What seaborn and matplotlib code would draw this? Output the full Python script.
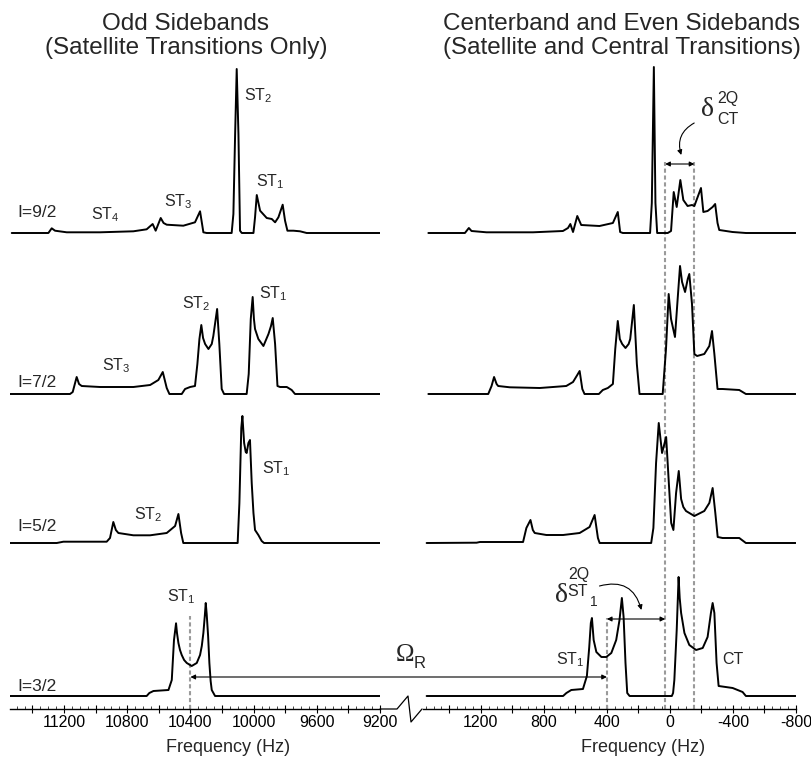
import numpy as np
import seaborn as sns
import matplotlib.pyplot as plt
from matplotlib.lines import Line2D
from matplotlib.ticker import FixedLocator, MultipleLocator, FuncFormatter

# ---- spectra: frequency (Hz) and intensity (a.u.) ----
# odd sidebands (left panel)
odd_92_hz = [11531, 11299, 11278, 11257, 11183, 10972, 10761, 10677, 10639, 10620,
             10588, 10570, 10550, 10445, 10371, 10339, 10318, 10297, 10139, 10128,
             10117, 10107, 10096, 10086, 10075, 10001, 9991, 9980, 9959, 9917,
             9885, 9864, 9843, 9816, 9801, 9786, 9748, 9706, 9664, 9200]
odd_92_int = [0, 0, 4.7, 2.3, 0.7, 0.7, 1.7, 3.7, 9, 2.3,
              15, 10, 8.3, 7.3, 10.7, 21.7, 0.7, 0, 0, 19,
              99, 164, 99, 2.3, 0, 0, 15.7, 38, 22.3, 15,
              14, 10.7, 15.7, 28.3, 12.3, 2.3, 2.3, 1.7, 0, 0]

odd_72_hz = [11542, 11162, 11145, 11120, 11105, 11088, 10972, 10761, 10655, 10603,
             10575, 10550, 10533, 10455, 10434, 10402, 10371, 10356, 10343, 10331,
             10320, 10307, 10286, 10265, 10255, 10231, 10217, 10202, 10187, 10044,
             10031, 10018, 10006, 9998, 9991, 9970, 9938, 9906, 9890, 9879,
             9864, 9849, 9833, 9790, 9759, 9738, 9200]
odd_72_int = [0, 0, 2, 17, 10, 8, 7, 7, 9, 14,
              22, 6, 0, 0, 5, 7, 8, 30, 55, 69,
              56, 50, 45, 50, 58, 85, 50, 5, 0, 0,
              20, 75, 97, 75, 65, 55, 48, 60, 68, 76,
              50, 8, 7, 7, 4, 0, 0]

odd_52_hz = [11542, 11246, 11204, 10930, 10909, 10888, 10872, 10856, 10761, 10655,
             10550, 10497, 10476, 10459, 10445, 10101, 10090, 10078, 10071, 10060,
             10050, 10044, 10033, 10023, 10012, 10001, 9991, 9970, 9949, 9934, 9200]
odd_52_int = [0, 0, 1.3, 1.3, 5, 21, 13, 10, 7.7, 7.7,
              10, 17, 29, 10, 0, 0, 40, 115, 127, 100,
              91, 90, 100, 103, 60, 30, 13, 8, 2, 0, 0]

odd_32_hz = [11542, 10677, 10660, 10634, 10539, 10518, 10504, 10491, 10485, 10476,
             10466, 10455, 10440, 10423, 10392, 10360, 10339, 10328, 10318, 10309,
             10303, 10297, 10288, 10280, 10272, 10265, 10244, 9200]
odd_32_int = [0, 0, 3, 5, 6, 16, 56, 72.7, 63, 53,
              46, 41, 36, 33, 30, 33, 41, 50, 63, 80,
              93, 82, 60, 33, 15, 6, 0, 0]

# centerband and even sidebands (right panel)
even_92_hz = [1533, 1301, 1276, 1259, 1164, 869, 679, 647, 632, 615,
              588, 563, 447, 362, 331, 316, 299, 126, 115, 102,
              92, 81, 14, -7, -24, -43, -66, -85, -112, -140,
              -155, -169, -197, -212, -239, -271, -287, -302, -313, -397, -482, -798]
even_92_int = [0, 0, 5, 2, 0.7, 0.7, 2, 5, 9, 1,
               17, 8, 7, 10, 21, 1, 0, 0, 30, 166,
               30, 0, 0, 2, 41, 26, 53, 33, 27, 28,
               27, 33, 45, 21, 22, 26, 29, 10, 3, 1, 0, 0]

even_72_hz = [1533, 1153, 1132, 1116, 1100, 1090, 1016, 826, 658, 615,
              588, 573, 556, 542, 451, 426, 394, 362, 347, 331,
              318, 303, 282, 262, 252, 229, 210, 193, 46, 25,
              8, -7, -32, -49, -64, -77, -96, -113, -123, -140,
              -155, -172, -218, -250, -267, -282, -302, -334, -440, -482, -798]
even_72_int = [0, 0, 8, 17, 10, 8, 6.7, 6, 8, 12,
               19, 23, 5, 0, 0, 4, 6, 10, 45, 73,
               55, 50, 46, 50, 55, 89, 30, 0, 0, 45,
               100, 75, 57, 95, 128, 112, 102, 115, 120, 90,
               40, 38, 40, 48, 63, 40, 5, 5, 4, 0, 0]

even_52_hz = [1544, 1227, 1206, 932, 911, 885, 870, 858, 784, 678,
              573, 510, 478, 457, 446, 119, 105, 88, 71, 50,
              24, 7, -8, -22, -39, -56, -71, -85, -102, -155,
              -218, -250, -271, -288, -303, -334, -440, -482, -798]
even_52_int = [0, 0.3, 1, 1, 15, 23, 13, 10, 8, 8,
               10, 16, 28, 5, 0, 0, 15, 80, 120, 90,
               106, 60, 20, 13, 50, 72, 44, 36, 32, 27,
               32, 40, 55, 30, 6, 5, 5, 0, 0]

even_32_hz = [1544, 678, 657, 626, 552, 527, 512, 502, 495, 484,
              467, 435, 404, 372, 341, 320, 305, 294, 282, 271,
              256, -12, -20, -28, -43, -55, -62, -71, -92, -123,
              -166, -208, -239, -260, -271, -282, -296, -309, -398, -461, -482, -798]
even_32_int = [0, 0, 3, 6, 7, 20, 49, 73, 78, 56,
               44, 39, 39, 43, 56, 76, 98, 79, 33, 3,
               0, 0, 3, 16, 66, 119, 98, 83, 63, 51,
               46, 48, 59, 83, 93, 83, 33, 10, 8, 4, 0, 0]

spin_labels = ["I=9/2", "I=7/2", "I=5/2", "I=3/2"]

# ---- layout (pixels of the 811x758 canvas) ----
W, H = 811, 758
AXIS_Y = 709
ROW_BASE = [476, 315, 166, 13]   # trace baselines, pixels above the axis line


def put(x, y, s, size, ha="center", va="center", **kw):
    fig.text(x / W, 1 - y / H, s, ha=ha, va=va, fontsize=size, **kw)


sns.set_theme(style="white")
plt.rcParams["font.family"] = ["Liberation Sans", "DejaVu Sans"]
plt.rcParams["mathtext.fontset"] = "custom"
plt.rcParams["mathtext.rm"] = "Liberation Sans"
plt.rcParams["mathtext.it"] = "Liberation Sans:italic"
plt.rcParams["mathtext.bf"] = "Liberation Sans:bold"
plt.rcParams["mathtext.sf"] = "Liberation Sans"

fig = plt.figure(figsize=(W / 100, H / 100), dpi=100)
ax_l = fig.add_axes([10 / W, (H - AXIS_Y) / H, 370 / W, 669 / H])
ax_r = fig.add_axes([423 / W, (H - AXIS_Y) / H, 373 / W, 669 / H])

odd = [(odd_92_hz, odd_92_int), (odd_72_hz, odd_72_int),
       (odd_52_hz, odd_52_int), (odd_32_hz, odd_32_int)]
even = [(even_92_hz, even_92_int), (even_72_hz, even_72_int),
        (even_52_hz, even_52_int), (even_32_hz, even_32_int)]

grey = "#9a9a9a"
dash_kw = dict(color=grey, lw=1.5, dashes=(2, 1.3), zorder=1)

# dashed reference lines
ax_r.plot([30, 30], [0, 547], **dash_kw)
ax_r.plot([-155, -155], [0, 547], **dash_kw)
ax_r.plot([400, 400], [0, 91], **dash_kw)
ax_l.plot([10400, 10400], [0, 93], **dash_kw)

for ax, traces in [(ax_l, odd), (ax_r, even)]:
    for (hz, inten), base in zip(traces, ROW_BASE):
        sns.lineplot(x=hz, y=np.array(inten) + base, ax=ax, color="black",
                     lw=1.4, sort=False, estimator=None, zorder=3)

for ax, lim in [(ax_l, (11542, 9200)), (ax_r, (1567, -800))]:
    ax.set_xlim(*lim)
    ax.set_ylim(0, 669)
    ax.set_yticks([])
    for s in ["top", "left", "right"]:
        ax.spines[s].set_visible(False)
    ax.spines["bottom"].set_color("black")
    ax.spines["bottom"].set_linewidth(1.0)
    lo, hi = min(lim), max(lim)
    ax.xaxis.set_major_locator(FixedLocator(np.arange(np.ceil(lo / 200) * 200, hi + 1, 200)))
    ax.xaxis.set_minor_locator(MultipleLocator(50))
    ax.xaxis.set_major_formatter(FuncFormatter(
        lambda v, p: f"{int(round(v))}" if int(round(v)) % 400 == 0 else ""))
    ax.tick_params(axis="x", which="major", direction="inout", length=6, width=0.8,
                   labelsize=11.5, pad=1, colors="black", bottom=True)
    ax.tick_params(axis="x", which="minor", direction="in", length=2.5, width=0.6,
                   bottom=True)
    ax.set_xlabel("Frequency (Hz)", fontsize=13, va="top")
    ax.xaxis.set_label_coords(0.589, -0.045)
    ax.set_facecolor("none")

# broken axis mark
bx = [380, 397, 408, 411, 422]
by = [709, 709, 696, 722, 709]
fig.add_artist(Line2D([x / W for x in bx], [1 - y / H for y in by],
                      color="black", lw=0.9))

# titles
put(186, 13, "Odd Sidebands\n(Satellite Transitions Only)", 17.5, va="top",
    multialignment="center", linespacing=1.12)
put(443, 13, "Centerband and Even Sidebands\n(Satellite and Central Transitions)", 17.5,
    ha="left", va="top", multialignment="left", linespacing=1.12)

# spin labels
for lab, yb in zip(spin_labels, [217, 387, 531, 691]):
    put(17, yb, lab, 12.5, ha="left", va="baseline")

# transition labels
st_labels = [("2", 258, 96), ("1", 270, 182), ("3", 178, 202), ("4", 105, 215),
             ("3", 116, 366), ("2", 196, 304), ("1", 273, 294),
             ("2", 148, 515), ("1", 276, 469), ("1", 181, 597),
             ("1", 570, 660)]
for n, x, y in st_labels:
    put(x, y, "ST$_" + n + "$", 11.5)
put(733, 660, "CT", 11.5)

arr2 = dict(arrowstyle="<|-|>", lw=0.8, color="black", mutation_scale=7,
            shrinkA=0, shrinkB=0)

# Omega_R arrow spanning both panels
ax_l.annotate("", xy=(10400, 32), xycoords=ax_l.transData,
              xytext=(400, 32), textcoords=ax_r.transData, arrowprops=arr2)
put(405, 655, "\u03a9", 18, family="Liberation Serif")
put(420, 663, "R", 12)

# delta ST1
ax_r.annotate("", xy=(400, 90), xytext=(30, 90), arrowprops=arr2)
ax_r.annotate("", xy=(181, 99), xytext=(447, 123),
              arrowprops=dict(arrowstyle="-|>", lw=0.8, color="black", mutation_scale=7,
                              shrinkA=0, shrinkB=0, connectionstyle="arc3,rad=-0.5"))
put(561, 595, "\u03b4", 20, family="Liberation Serif")
put(579, 574, "2Q", 11.5)
put(578, 592, "ST", 11.5)
put(594, 602, "1", 10)

# delta CT
ax_r.annotate("", xy=(30, 545), xytext=(-155, 545), arrowprops=arr2)
ax_r.annotate("", xy=(-72, 554), xytext=(-154, 586),
              arrowprops=dict(arrowstyle="-|>", lw=0.8, color="black", mutation_scale=7,
                              shrinkA=0, shrinkB=0, connectionstyle="arc3,rad=0.4"))
put(707, 109, "\u03b4", 20, family="Liberation Serif")
put(728, 99, "2Q", 11.5)
put(728, 120, "CT", 11.5)

fig.savefig("out.png", dpi=100, facecolor="white")
